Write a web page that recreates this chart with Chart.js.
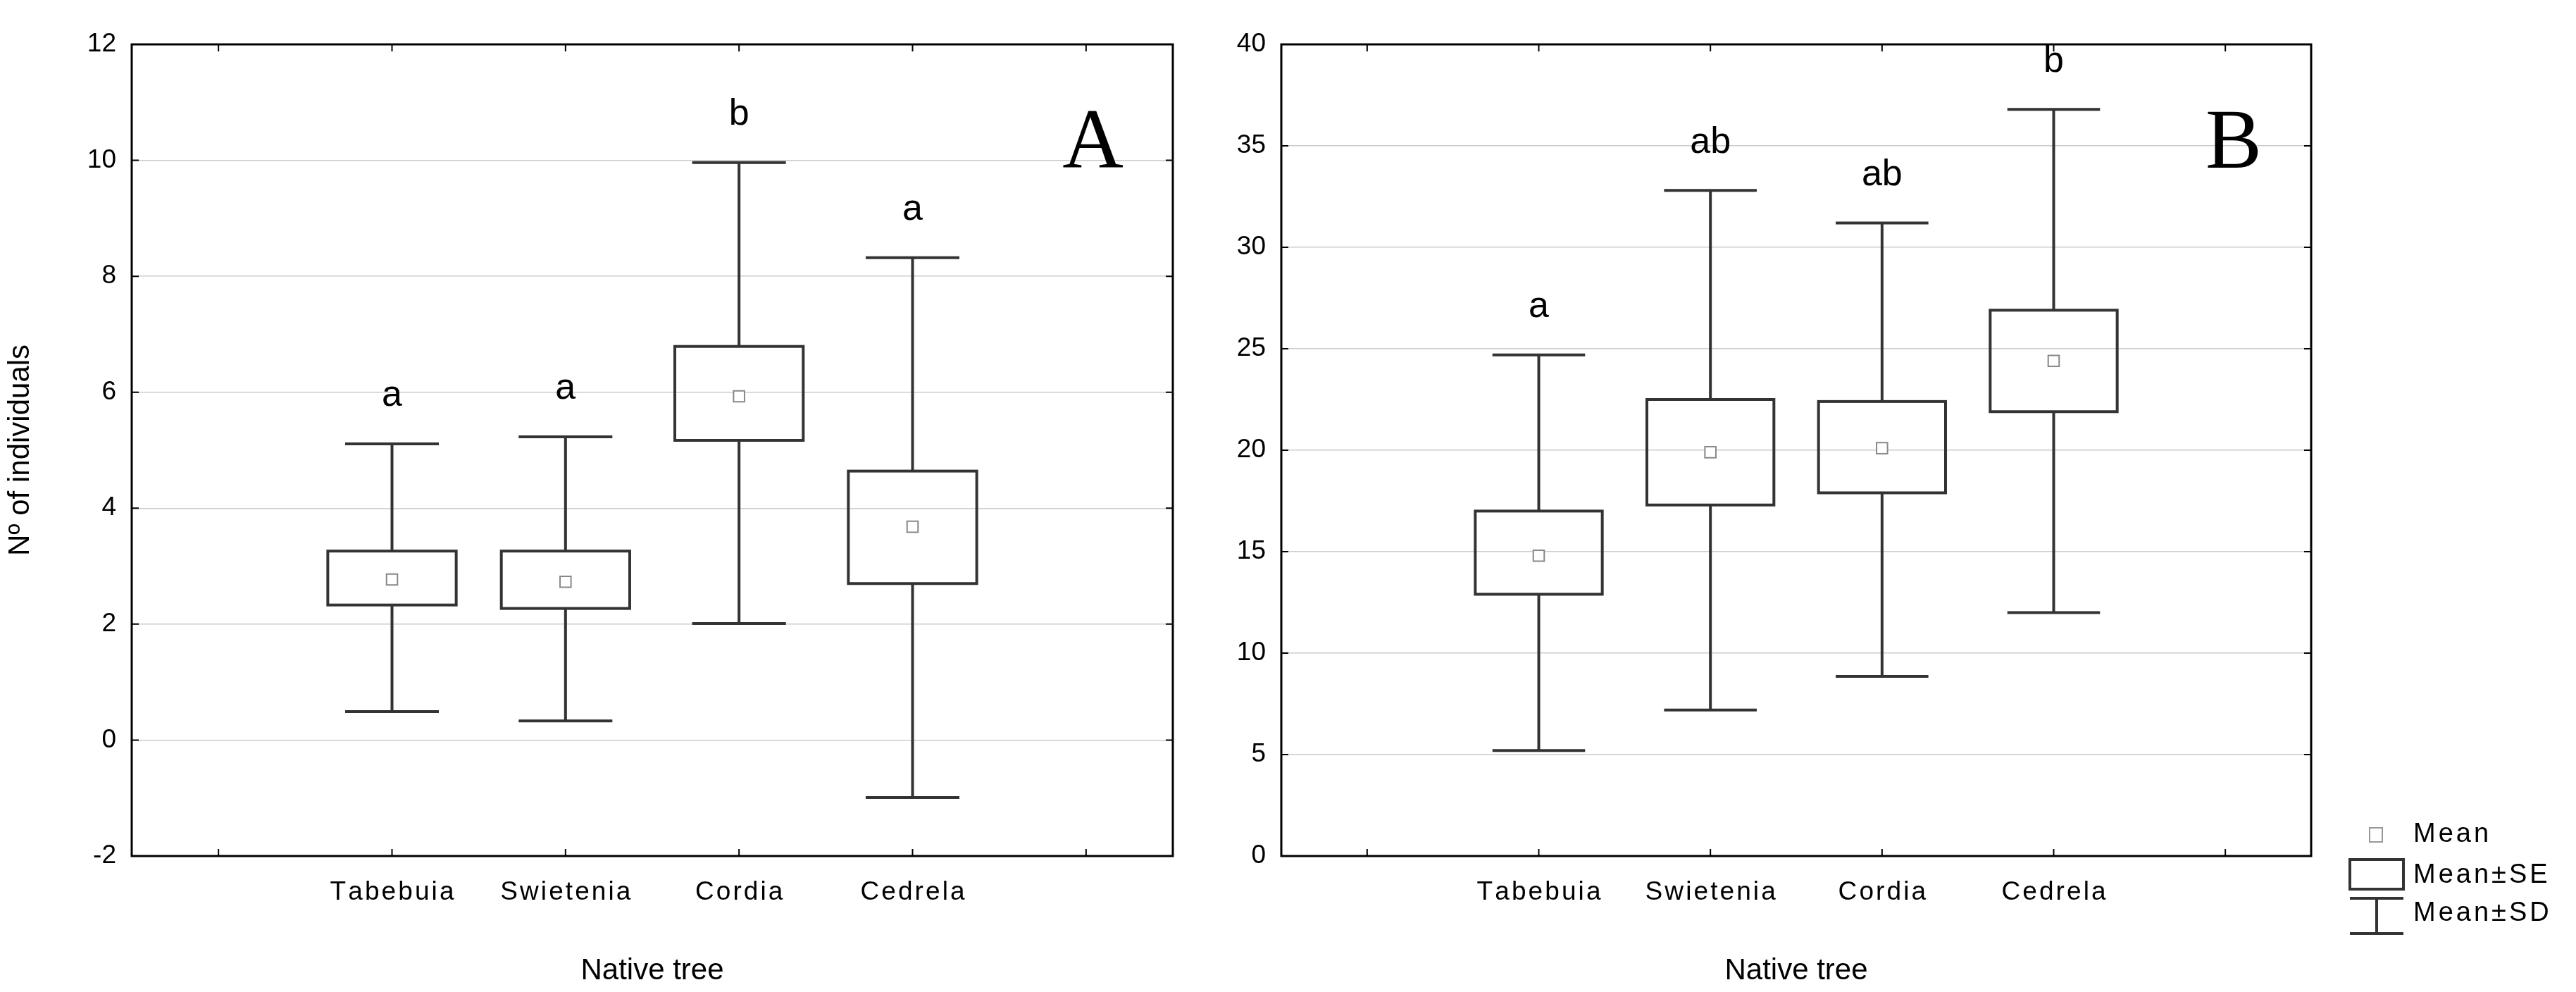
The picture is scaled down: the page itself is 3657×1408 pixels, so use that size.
<!DOCTYPE html>
<html>
<head>
<meta charset="utf-8">
<script src="https://cdn.jsdelivr.net/npm/chart.js@4"></script>
<style>
    body { margin: 0; background: #fff; }
    canvas { position: absolute; top: 0; }
    #chartA { left: 0; }
    #chartB { left: 1700px; }
</style>
</head>
<body>
<canvas id="chartA" width="1700" height="1408"></canvas>
<canvas id="chartB" width="1957" height="1408"></canvas>
<script>
const categories = ["", "Tabebuia", "Swietenia", "Cordia", "Cedrela", ""];

// panel A
const meanA = [2.77, 2.73, 5.93, 3.68];
const seLoA = [2.33, 2.27, 5.17, 2.70];
const seHiA = [3.26, 3.26, 6.79, 4.64];
const sdLoA = [0.49, 0.33, 2.01, -0.99];
const sdHiA = [5.11, 5.23, 9.96, 8.32];
const lettersA = ["a", "a", "b", "a"];
const ticksA = [-2, 0, 2, 4, 6, 8, 10, 12];

// panel B
const meanB = [14.8, 19.9, 20.1, 24.4];
const seLoB = [12.9, 17.3, 17.9, 21.9];
const seHiB = [17.0, 22.5, 22.4, 26.9];
const sdLoB = [5.2, 7.2, 8.85, 12.0];
const sdHiB = [24.7, 32.8, 31.2, 36.8];
const lettersB = ["a", "ab", "ab", "b"];
const ticksB = [0, 5, 10, 15, 20, 25, 30, 35, 40];

const font = "Liberation Sans, Arial, sans-serif";
const ink = "#333";

/** box, whisker, letters, frame **/
function boxPlugin(means, seLo, seHi, sdLo, sdHi, letters, panel, withLegend)
{
    return {
        id: "box" + panel,
        beforeDatasetsDraw(chart) {
            const {ctx, scales: {x, y}} = chart;
            const step = x.getPixelForValue(2) - x.getPixelForValue(1);
            ctx.save();
            ctx.strokeStyle = ink;
            ctx.lineWidth = 4;
            means.forEach((m, i) => {
                const cx = x.getPixelForValue(i + 1);
                const bw = step * 0.37, cw = step * 0.27;
                const yTop = y.getPixelForValue(sdHi[i]), yBot = y.getPixelForValue(sdLo[i]);
                const ySeH = y.getPixelForValue(seHi[i]), ySeL = y.getPixelForValue(seLo[i]);
                ctx.beginPath();
                ctx.moveTo(cx, yTop); ctx.lineTo(cx, ySeH);
                ctx.moveTo(cx, ySeL); ctx.lineTo(cx, yBot);
                ctx.moveTo(cx - cw, yTop); ctx.lineTo(cx + cw, yTop);
                ctx.moveTo(cx - cw, yBot); ctx.lineTo(cx + cw, yBot);
                ctx.stroke();
                ctx.strokeRect(cx - bw, ySeH, bw * 2, ySeL - ySeH);
                ctx.fillStyle = "#000";
                ctx.font = "52px " + font;
                ctx.textAlign = "center";
                ctx.textBaseline = "bottom";
                ctx.fillText(letters[i], cx, yTop - 42);
            });
            ctx.restore();
        },
        afterDraw(chart) {
            const {ctx, scales: {x, y}, chartArea: a} = chart;
            ctx.save();
            ctx.strokeStyle = "#000";
            ctx.lineWidth = 3;
            ctx.strokeRect(a.left, a.top, a.right - a.left, a.bottom - a.top);
            ctx.lineWidth = 2;
            ctx.beginPath();
            categories.forEach((c, i) => {
                const px = x.getPixelForValue(i);
                ctx.moveTo(px, a.top); ctx.lineTo(px, a.top + 10);
                ctx.moveTo(px, a.bottom); ctx.lineTo(px, a.bottom - 10);
            });
            y.ticks.forEach(t => {
                const py = y.getPixelForValue(t.value);
                ctx.moveTo(a.left, py); ctx.lineTo(a.left + 10, py);
                ctx.moveTo(a.right, py); ctx.lineTo(a.right - 10, py);
            });
            ctx.stroke();
            ctx.fillStyle = "#000";
            ctx.font = "120px Liberation Serif, Times New Roman, serif";
            ctx.textAlign = "right";
            ctx.textBaseline = "alphabetic";
            ctx.fillText(panel, a.right - 70, a.top + 175);
            if (withLegend) drawLegend(ctx, a.right + 55, a.bottom - 30);
            ctx.restore();
        }
    };
}

function drawLegend(ctx, lx, ly)
{
    ctx.fillStyle = "#000";
    ctx.font = "38px " + font;
    ctx.letterSpacing = "4px";
    ctx.textAlign = "left";
    ctx.textBaseline = "middle";
    ctx.strokeStyle = "#999";
    ctx.lineWidth = 2;
    ctx.strokeRect(lx + 28, ly - 10, 18, 20);
    ctx.fillText("Mean", lx + 90, ly);
    ctx.strokeStyle = ink;
    ctx.lineWidth = 4;
    ctx.strokeRect(lx, ly + 35, 76, 42);
    ctx.fillText("Mean±SE", lx + 90, ly + 58);
    ctx.beginPath();
    ctx.moveTo(lx, ly + 90); ctx.lineTo(lx + 76, ly + 90);
    ctx.moveTo(lx + 38, ly + 90); ctx.lineTo(lx + 38, ly + 140);
    ctx.moveTo(lx, ly + 140); ctx.lineTo(lx + 76, ly + 140);
    ctx.stroke();
    ctx.fillText("Mean±SD", lx + 90, ly + 112);
}

function initChart(id, means, seLo, seHi, sdLo, sdHi, letters, ticks, panel, opts)
{
    return new Chart(document.getElementById(id), {
        type: "line",
        data: {
            labels: categories,
            datasets: [{
                label: "Mean",
                data: [null, ...means, null],
                showLine: false,
                pointStyle: "rect",
                pointRadius: 11,
                pointBackgroundColor: "#fff",
                pointBorderColor: "#888",
                pointBorderWidth: 2,
            }]
        },
        options: {
            responsive: false,
            animation: false,
            layout: {padding: {top: 63, right: opts.right, left: 0, bottom: 0}},
            plugins: {legend: {display: false}, tooltip: {enabled: false}},
            scales: {
                x: {
                    offset: true,
                    grid: {display: false},
                    border: {display: false},
                    ticks: {
                        font: {size: 37, family: font}, color: "#000", padding: 22,
                        callback: (v, i) => categories[i].split("").join("\u200A"),
                    },
                    title: {display: true, text: "Native tree", font: {size: 42, family: font}, color: "#000", padding: {top: 0}},
                    afterFit: s => { s.height = 193; }
                },
                y: {
                    min: ticks[0], max: ticks[ticks.length - 1],
                    afterBuildTicks: s => { s.ticks = ticks.map(v => ({value: v})); },
                    grid: {color: "#ccc", lineWidth: 1.5, drawTicks: false},
                    border: {display: false},
                    ticks: {font: {size: 37, family: font}, color: "#000", padding: 22},
                    title: {display: opts.yTitle, text: "Nº of individuals", font: {size: 42, family: font}, color: "#000"},
                    afterFit: s => { s.width = opts.left; }
                }
            }
        },
        plugins: [boxPlugin(means, seLo, seHi, sdLo, sdHi, letters, panel, opts.legend)]
    });
}

initChart("chartA", meanA, seLoA, seHiA, sdLoA, sdHiA, lettersA, ticksA, "A", {left: 187, right: 35, yTitle: true, legend: false});
initChart("chartB", meanB, seLoB, seHiB, sdLoB, sdHiB, lettersB, ticksB, "B", {left: 119, right: 376, yTitle: false, legend: true});
</script>
</body>
</html>
